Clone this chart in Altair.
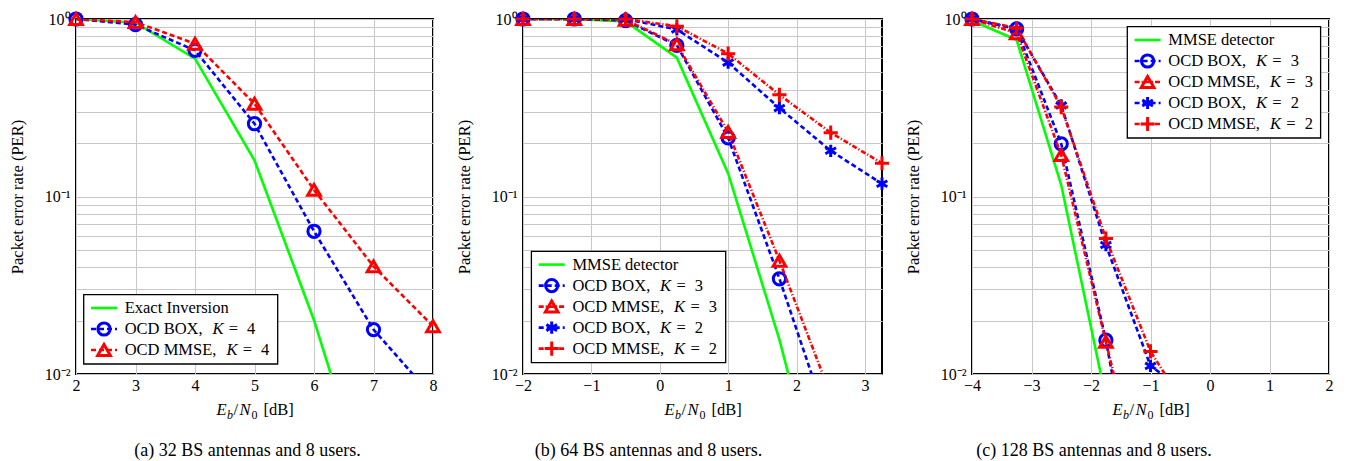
import altair as alt
import pandas as pd

FONT = "Liberation Serif"

# ---------------- data ----------------
A_X = [2, 3, 4, 5, 6, 7, 8]
A_LABELS = ["Exact Inversion", "OCD BOX,", "OCD MMSE,"]
A_K = ["", "4", "4"]
A_EXACT = [1.0, 0.953, 0.598, 0.160, 0.0201, 0.0017]
A_BOX4 = [1.0, 0.929, 0.666, 0.257, 0.0637, 0.0178, 0.0074]
A_MMSE4 = [1.0, 0.96, 0.726, 0.333, 0.109, 0.0404, 0.0186]

B_X = [-2, -1.25, -0.5, 0.25, 1, 1.75, 2.5, 3.25]
B_LABELS = ["MMSE detector", "OCD BOX,", "OCD MMSE,", "OCD BOX,", "OCD MMSE,"]
B_K = ["", "3", "3", "2", "2"]
B_MMSE = [1.0, 1.0, 0.97, 0.606, 0.135, 0.0156, 0.0012]
B_BOX3 = [1.0, 1.0, 0.98, 0.711, 0.214, 0.0344, 0.0048]
B_MMSE3 = [1.0, 1.0, 0.99, 0.72, 0.231, 0.0435, 0.0076]
B_BOX2 = [1.0, 1.0, 1.0, 0.873, 0.568, 0.315, 0.181, 0.118]
B_MMSE2 = [1.0, 1.0, 1.0, 0.91, 0.638, 0.374, 0.229, 0.154]

C_X = [-4, -3.25, -2.5, -1.75, -1, -0.25]
C_LABELS = ["MMSE detector", "OCD BOX,", "OCD MMSE,", "OCD BOX,", "OCD MMSE,"]
C_K = ["", "3", "3", "2", "2"]
C_MMSE = [0.98, 0.762, 0.116, 0.0073]
C_BOX3 = [1.0, 0.879, 0.198, 0.0155, 0.0007]
C_MMSE3 = [1.0, 0.831, 0.171, 0.0152, 0.0014]
C_BOX2 = [1.0, 0.879, 0.326, 0.0533, 0.0111, 0.0073]
C_MMSE2 = [1.0, 0.89, 0.319, 0.058, 0.0134, 0.0054]

CAPTIONS = ["(a) 32 BS antennas and 8 users.",
            "(b) 64 BS antennas and 8 users.",
            "(c) 128 BS antennas and 8 users."]

Y_TICKS = [m * 10 ** e for e in (-2, -1) for m in range(1, 10)] + [1]

# ---------------- styles ----------------
GREEN, BLUE, RED = "#00ff00", "#0000ff", "#ff0000"
DASH = [5, 3]
DASHDOT = [5, 2, 1.2, 2]
ASTERISK = "M0,-1L0,1M-0.87,-0.5L0.87,0.5M-0.87,0.5L0.87,-0.5"
PLUS = "M-1,0L1,0M0,-1L0,1"
STYLES = {
    "green": dict(color=GREEN, dash=None, shape=None),
    "circ": dict(color=BLUE, dash=DASH, shape="circle", size=150, sw=3),
    "tri_dash": dict(color=RED, dash=DASH, shape="triangle-up", size=160, sw=3),
    "tri": dict(color=RED, dash=DASHDOT, shape="triangle-up", size=160, sw=3),
    "ast": dict(color=BLUE, dash=DASH, shape=ASTERISK, size=150, sw=3),
    "plus": dict(color=RED, dash=DASHDOT, shape=PLUS, size=200, sw=3),
}
KOFF = {"OCD BOX,": 87.7, "OCD MMSE,": 101.7}
LINE_W = 2.6
LEG_FS = 16.5
H = 355
ONE = alt.Data(values=[{}])

YLAB = ("abs(datum.value-1)<1e-9 ? '10⁰' : abs(datum.value-0.1)<1e-9 ? '10⁻¹' : "
        "abs(datum.value-0.01)<1e-9 ? '10⁻²' : ''")


def text_layer(x, y, text, size=LEG_FS, italic=False, align="left", baseline="middle", data=None, field=None):
    src = data if data is not None else ONE
    kw = dict(align=align, baseline=baseline, font=FONT, fontSize=size, color="black")
    if italic:
        kw["fontStyle"] = "italic"
    t = alt.Text(field + ":N") if field else alt.value(text)
    return alt.Chart(src).mark_text(**kw).encode(x=alt.value(x), y=alt.value(y), text=t)


def panel(xs, labels, ks, ys_list, style_keys, xdom, xticks, width, leg, caption, cap_x):
    xsc = alt.Scale(domain=xdom, nice=False, zero=False)
    ysc = alt.Scale(type="log", domain=[0.01, 1], nice=False)
    xax = alt.Axis(values=xticks, title=None, grid=True, domain=False, ticks=False,
                   labelPadding=3, labelFlush=False, format="d")
    yax = alt.Axis(values=Y_TICKS, labelExpr=YLAB, title="Packet error rate (PER)",
                   grid=True, domain=False, ticks=False, labelPadding=6,
                   labelFlush=False, labelOverlap=False, minExtent=40, maxExtent=40,
                   titlePadding=10.5)
    enc = dict(x=alt.X("x:Q", scale=xsc, axis=xax), y=alt.Y("y:Q", scale=ysc, axis=yax))
    layers = []
    for ys, key in zip(ys_list, style_keys):
        st = STYLES[key]
        df = pd.DataFrame({"x": xs[:len(ys)], "y": ys})
        lkw = dict(clip=True, color=st["color"], strokeWidth=LINE_W)
        if st["dash"]:
            lkw["strokeDash"] = st["dash"]
        layers.append(alt.Chart(df).mark_line(**lkw).encode(**enc))
        if st["shape"]:
            layers.append(
                alt.Chart(df).transform_filter("datum.y >= 0.01")
                .mark_point(shape=st["shape"], size=st["size"], strokeWidth=st["sw"],
                            color=st["color"], filled=False, opacity=1)
                .encode(**enc))

    # legend box (negative y means measured from the bottom of the plot)
    bx0, by0, bx1 = leg
    if by0 < 0:
        by0 = H + by0
    n = len(labels)
    rh = 21
    r0 = by0 + 13.3
    by1 = r0 + (n - 1) * rh + 14
    layers.append(alt.Chart(ONE).mark_rect(fill="white", stroke="black", strokeWidth=1.3)
                  .encode(x=alt.value(bx0), x2=alt.value(bx1), y=alt.value(by0), y2=alt.value(by1)))
    for i, (lab, k, key) in enumerate(zip(labels, ks, style_keys)):
        st = STYLES[key]
        ry = r0 + i * rh
        rkw = dict(color=st["color"], strokeWidth=LINE_W)
        if st["dash"]:
            rkw["strokeDash"] = st["dash"]
        layers.append(alt.Chart(ONE).mark_rule(**rkw).encode(
            x=alt.value(bx0 + 7.3), x2=alt.value(bx0 + 33.3), y=alt.value(ry)))
        if st["shape"]:
            layers.append(alt.Chart(ONE).mark_point(
                shape=st["shape"], size=st["size"], strokeWidth=st["sw"], color=st["color"],
                filled=False, opacity=1).encode(x=alt.value(bx0 + 20.3), y=alt.value(ry)))
        tx = bx0 + 41
        layers.append(text_layer(tx, ry, None, data=pd.DataFrame({"label": [lab]}), field="label"))
        if k:
            ko = KOFF[lab]
            layers.append(text_layer(tx + ko, ry, "K", italic=True))
            layers.append(text_layer(tx + ko + 16.3, ry, "="))
            layers.append(text_layer(tx + ko + 34.7, ry, None,
                                     data=pd.DataFrame({"k": [k]}), field="k"))

    # x-axis title  E_b / N_0 [dB]
    cx = width / 2
    yb = H + 41
    for txt, it, fs, dx, dy in [("E", True, 16.5, -38, 0), ("b", True, 12, -27.5, 4),
                                ("/", False, 16.5, -21, 0), ("N", True, 16.5, -15, 0),
                                ("0", False, 12, -3, 4), ("[dB]", False, 16.5, 9, 0)]:
        layers.append(text_layer(cx + dx, yb + dy, txt, size=fs, italic=it, baseline="alphabetic"))

    # caption
    layers.append(text_layer(cap_x, H + 82, None, size=18, align="center", baseline="alphabetic",
                             data=pd.DataFrame({"cap": [caption]}), field="cap"))

    return alt.layer(*layers).properties(width=width, height=H)


pa = panel(A_X, A_LABELS, A_K, [A_EXACT, A_BOX4, A_MMSE4], ["green", "circ", "tri_dash"],
           [2, 8], list(range(2, 9)), 357, (7.7, -79.3, 201.7), CAPTIONS[0], 171.5)
pb = panel(B_X, B_LABELS, B_K, [B_MMSE, B_BOX3, B_MMSE3, B_BOX2, B_MMSE2],
           ["green", "circ", "tri", "ast", "plus"],
           [-2, 3.25], list(range(-2, 4)), 359, (8.4, -122.7, 202.7), CAPTIONS[1], 125.5)
pc = panel(C_X, C_LABELS, C_K, [C_MMSE, C_BOX3, C_MMSE3, C_BOX2, C_MMSE2],
           ["green", "circ", "tri", "ast", "plus"],
           [-4, 2], list(range(-4, 3)), 357, (155.3, 7.7, 348.6), CAPTIONS[2], 122)

chart = (alt.hconcat(pa, pb, pc, spacing=90, bounds="flush")
         .properties(padding={"left": 0, "top": -4, "right": 0, "bottom": 0})
         .configure_view(stroke="black", strokeWidth=2)
         .configure_axis(labelFont=FONT, titleFont=FONT, labelColor="black", titleColor="black",
                         titleFontWeight="normal", labelFontSize=16, titleFontSize=16.5,
                         gridColor="#c8c8c8", gridWidth=1))

chart.save("out.html", embed_options={"renderer": "svg", "actions": False})
